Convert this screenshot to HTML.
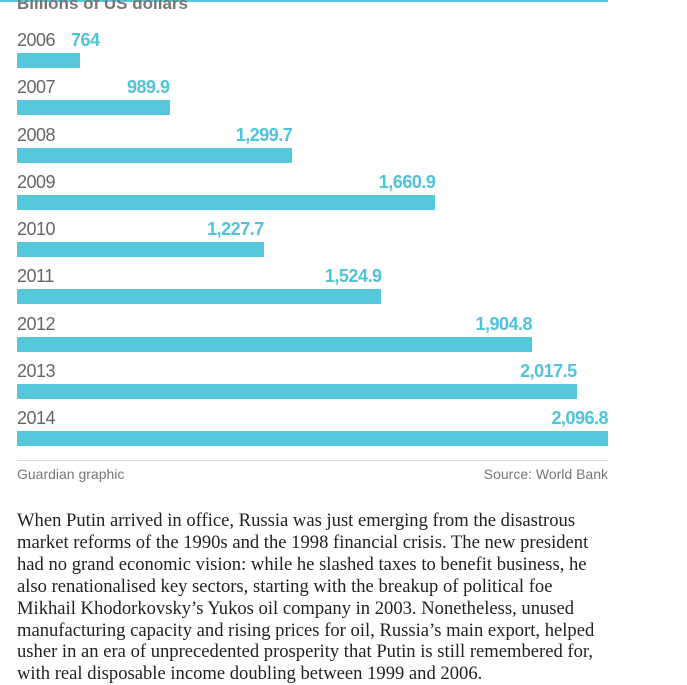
<!DOCTYPE html><html><head><style>
body{margin:0;width:687px;height:682px;overflow:hidden;background:#fff;position:relative;font-family:"Liberation Sans",sans-serif}
.t{position:absolute;white-space:nowrap}
.y{font-size:18px;color:#666;left:17px;letter-spacing:-0.5px}
.v{font-size:18px;color:#4fc3da;font-weight:bold;letter-spacing:-0.5px}
.b{position:absolute;left:17px;height:15px;background:#55c8dc}
</style></head><body>
<div style="position:absolute;left:0;top:0;width:608px;height:2px;background:#55c8dc"></div>
<div class="t" style="left:17px;top:-6px;font-size:17px;font-weight:bold;color:#777">Billions of US dollars</div>
<div id="c"></div>
<div style="position:absolute;left:17px;top:460px;width:591px;height:1px;background:#ddd"></div>
<div class="t" style="left:17px;top:466px;font-size:14px;color:#777">Guardian graphic</div>
<div class="t" style="right:79px;top:466px;font-size:14px;color:#777">Source: World Bank</div>
<div style="position:absolute;left:17px;top:510px;white-space:nowrap;font-family:'Liberation Serif',serif;font-size:18.6px;line-height:21.9px;color:#222">When Putin arrived in office, Russia was just emerging from the disastrous<br>market reforms of the 1990s and the 1998 financial crisis. The new president<br>had no grand economic vision: while he slashed taxes to benefit business, he<br>also renationalised key sectors, starting with the breakup of political foe<br>Mikhail Khodorkovsky’s Yukos oil company in 2003. Nonetheless, unused<br>manufacturing capacity and rising prices for oil, Russia’s main export, helped<br>usher in an era of unprecedented prosperity that Putin is still remembered for,<br>with real disposable income doubling between 1999 and 2006.</div>
<script>
var d=[[2006,764,"764"],[2007,989.9,"989.9"],[2008,1299.7,"1,299.7"],[2009,1660.9,"1,660.9"],[2010,1227.7,"1,227.7"],[2011,1524.9,"1,524.9"],[2012,1904.8,"1,904.8"],[2013,2017.5,"2,017.5"],[2014,2096.8,"2,096.8"]];
var h="";d.forEach(function(r,i){var top=53+i*47.25;var e=80+(r[1]-764)*0.3962;
h+='<div class="t y" style="top:'+(top-23)+'px">'+r[0]+'</div>';
if(i==0)h+='<div class="t v" style="left:71px;top:'+(top-23)+'px">'+r[2]+'</div>';
else h+='<div class="t v" style="right:'+(687-e)+'px;top:'+(top-23)+'px">'+r[2]+'</div>';
h+='<div class="b" style="top:'+top+'px;width:'+(e-17)+'px"></div>';});
document.getElementById("c").innerHTML=h;
</script>
</body></html>
